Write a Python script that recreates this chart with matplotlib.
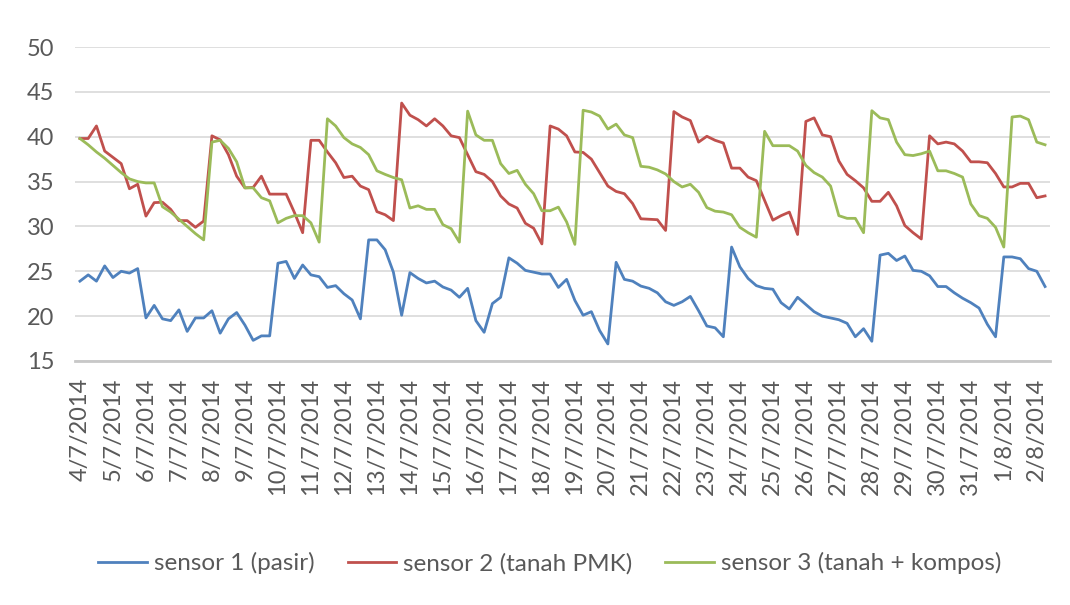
import matplotlib
matplotlib.use("Agg")
import matplotlib.pyplot as plt
import numpy as np

plt.rcParams['font.family'] = ['Lato', 'DejaVu Sans']

# one label every 4 readings (4 readings per day)
dates = ["4/7/2014", "5/7/2014", "6/7/2014", "7/7/2014", "8/7/2014", "9/7/2014",
         "10/7/2014", "11/7/2014", "12/7/2014", "13/7/2014", "14/7/2014", "15/7/2014",
         "16/7/2014", "17/7/2014", "18/7/2014", "19/7/2014", "20/7/2014", "21/7/2014",
         "22/7/2014", "23/7/2014", "24/7/2014", "25/7/2014", "26/7/2014", "27/7/2014",
         "28/7/2014", "29/7/2014", "30/7/2014", "31/7/2014", "1/8/2014", "2/8/2014"]

sensor1 = [23.9, 24.6, 23.9, 25.6, 24.3, 25.0, 24.8, 25.3, 19.8, 21.2,
           19.7, 19.5, 20.7, 18.3, 19.8, 19.8, 20.6, 18.1, 19.7, 20.4,
           19.0, 17.3, 17.8, 17.8, 25.9, 26.1, 24.2, 25.7, 24.6, 24.4,
           23.2, 23.4, 22.5, 21.8, 19.7, 28.5, 28.5, 27.4, 24.9, 20.1,
           24.85, 24.2, 23.7, 23.9, 23.25, 22.9, 22.1, 23.1, 19.5, 18.2,
           21.4, 22.1, 26.5, 25.9, 25.1, 24.9, 24.7, 24.7, 23.2, 24.1,
           21.75, 20.1, 20.5, 18.4, 16.9, 26.0, 24.1, 23.9, 23.35, 23.1,
           22.6, 21.6, 21.2, 21.6, 22.2, 20.6, 18.9, 18.7, 17.7, 27.7,
           25.5, 24.2, 23.4, 23.1, 23.0, 21.5, 20.8, 22.1, 21.3, 20.5,
           20.0, 19.8, 19.6, 19.2, 17.7, 18.6, 17.2, 26.8, 27.0, 26.2,
           26.7, 25.1, 25.0, 24.5, 23.3, 23.3, 22.6, 22.0, 21.5, 20.9,
           19.1, 17.7, 26.6, 26.6, 26.4, 25.3, 25.0, 23.3]

sensor2 = [39.8, 39.8, 41.2, 38.4, 37.7, 37.0, 34.2, 34.7, 31.15, 32.65,
           32.7, 31.9, 30.65, 30.65, 29.9, 30.6, 40.1, 39.65, 38.0, 35.6,
           34.3, 34.35, 35.6, 33.6, 33.6, 33.6, 31.55, 29.3, 39.6, 39.6,
           38.3, 37.1, 35.45, 35.6, 34.5, 34.1, 31.65, 31.3, 30.65, 43.75,
           42.4, 41.9, 41.2, 42.0, 41.2, 40.1, 39.9, 38.0, 36.1, 35.8,
           35.0, 33.4, 32.5, 32.05, 30.35, 29.8, 28.05, 41.2, 40.85, 40.1,
           38.3, 38.25, 37.5, 36.0, 34.5, 33.9, 33.65, 32.55, 30.85, 30.8,
           30.75, 29.55, 42.8, 42.2, 41.8, 39.4, 40.05, 39.6, 39.3, 36.5,
           36.5, 35.5, 35.1, 32.9, 30.7, 31.2, 31.6, 29.1, 41.7, 42.1,
           40.2, 40.0, 37.3, 35.8, 35.1, 34.3, 32.8, 32.8, 33.8, 32.3,
           30.1, 29.3, 28.6, 40.1, 39.2, 39.4, 39.2, 38.4, 37.2, 37.2,
           37.1, 35.9, 34.4, 34.4, 34.8, 34.8, 33.2, 33.4]

sensor3 = [39.8, 39.1, 38.3, 37.6, 36.8, 36.0, 35.3, 35.0, 34.85, 34.85,
           32.2, 31.6, 30.8, 30.0, 29.2, 28.5, 39.4, 39.6, 38.7, 37.2,
           34.3, 34.3, 33.2, 32.85, 30.4, 30.9, 31.2, 31.2, 30.4, 28.25,
           42.0, 41.2, 39.9, 39.2, 38.8, 38.0, 36.2, 35.8, 35.45, 35.2,
           32.05, 32.3, 31.9, 31.9, 30.2, 29.75, 28.25, 42.85, 40.2, 39.6,
           39.6, 37.0, 35.9, 36.25, 34.7, 33.65, 31.75, 31.75, 32.15, 30.5,
           28.0, 42.95, 42.75, 42.3, 40.85, 41.4, 40.2, 39.9, 36.7, 36.6,
           36.3, 35.85, 35.0, 34.4, 34.7, 33.8, 32.1, 31.7, 31.6, 31.3,
           29.9, 29.3, 28.8, 40.6, 39.0, 39.0, 39.0, 38.4, 36.8, 36.0,
           35.5, 34.5, 31.2, 30.9, 30.9, 29.3, 42.9, 42.1, 41.9, 39.4,
           38.0, 37.9, 38.1, 38.4, 36.2, 36.2, 35.9, 35.5, 32.5, 31.2,
           30.9, 29.9, 27.7, 42.2, 42.3, 41.9, 39.4, 39.1]

labels = ["sensor 1 (pasir)", "sensor 2 (tanah PMK)", "sensor 3 (tanah + kompos)"]
colors = ["#4F81BD", "#C0504D", "#9BBB59"]

fig = plt.figure(figsize=(10.7, 6.05), dpi=100)
ax = fig.add_axes([75 / 1070, 1 - 361 / 605, 975 / 1070, 314 / 605])

x = np.arange(len(sensor1))
for ys, lab, c in zip([sensor1, sensor2, sensor3], labels, colors):
    ax.plot(x, ys, color=c, lw=2.0, label=lab, solid_joinstyle="round")

ax.set_ylim(15, 50)
ax.set_yticks(range(15, 51, 5))
ax.set_xlim(-0.6, len(x) - 1 + 0.6)
ax.set_xticks(range(0, len(x), 4))
ax.set_xticklabels(dates, rotation=90)

ax.grid(axis="y", color="#D9D9D9", lw=1.2)
ax.set_axisbelow(True)
for s in ["top", "right", "left"]:
    ax.spines[s].set_visible(False)
ax.spines["bottom"].set_color("#C8C8C8")
ax.spines["bottom"].set_linewidth(2)

ax.tick_params(axis="both", length=0, labelsize=17, colors="#595959")
ax.tick_params(axis="x", pad=12)
ax.tick_params(axis="y", pad=15)

fig.legend(loc="center", bbox_to_anchor=(0.514, 0.069), ncol=3, frameon=False,
           fontsize=17.5, labelcolor="#595959", handlelength=2.0,
           handletextpad=0.3, columnspacing=1.35)

fig.savefig("out.png", dpi=100)
